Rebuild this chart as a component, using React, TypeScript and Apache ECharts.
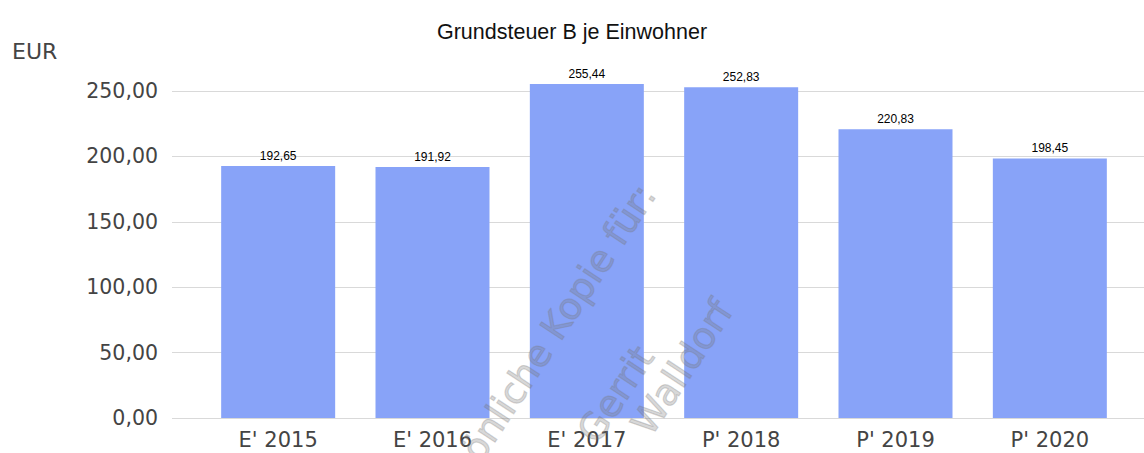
import React, { useEffect, useRef } from "react";
import * as echarts from "echarts";

const categories = ["E' 2015", "E' 2016", "E' 2017", "P' 2018", "P' 2019", "P' 2020"];
const values = [192.65, 191.92, 255.44, 252.83, 220.83, 198.45];
const yTicks = { min: 0, max: 250, interval: 50 };
const titleText = "Grundsteuer B je Einwohner";
const unitText = "EUR";
const watermarkLines = ["Persönliche Kopie für:", "Gerrit", "Walldorf"];

const fmt = (v: number) => v.toFixed(2).replace(".", ",");

export default function App() {
  const ref = useRef<HTMLDivElement>(null);
  useEffect(() => {
    if (!ref.current) return;
    const chart = echarts.init(ref.current, null, { renderer: "svg" });
    const rot = (56.7 * Math.PI) / 180;
    const wmStyle = {
      fill: "#767676",
      stroke: "#767676",
      lineWidth: 1.2,
      opacity: 0.28,
      fontSize: 37,
      fontFamily: "DejaVu Sans",
      align: "right",
      verticalAlign: "middle",
    };
    chart.setOption({
      animation: false,
      backgroundColor: "#ffffff",
      title: {
        text: titleText,
        left: "center",
        top: 16,
        textStyle: { fontFamily: "Liberation Sans", fontSize: 21.5, fontWeight: "normal", color: "#111" },
      },
      grid: [
        { left: 172, right: 0, top: 91, bottom: 35 },
        { left: 201, right: 17, top: 91, bottom: 35 },
      ],
      xAxis: [
        { type: "value", gridIndex: 0, show: false, min: 0, max: 1 },
        {
          type: "category",
          gridIndex: 1,
          data: categories,
          axisLine: { show: false },
          axisTick: { show: false },
          axisLabel: { fontFamily: "DejaVu Sans", fontSize: 21, color: "#444", margin: 11 },
        },
      ],
      yAxis: [
        {
          type: "value",
          gridIndex: 0,
          min: yTicks.min,
          max: yTicks.max,
          interval: yTicks.interval,
          axisLine: { show: false },
          axisTick: { show: false },
          splitLine: { lineStyle: { color: "#d9d9d9", width: 1 } },
          axisLabel: {
            fontFamily: "DejaVu Sans",
            fontSize: 20.5,
            color: "#444",
            margin: 14,
            formatter: (v: number) => fmt(v),
          },
        },
        {
          type: "value",
          gridIndex: 1,
          min: yTicks.min,
          max: yTicks.max,
          interval: yTicks.interval,
          show: false,
          splitLine: { show: false },
        },
      ],
      series: [
        {
          type: "bar",
          xAxisIndex: 1,
          yAxisIndex: 1,
          data: values,
          barWidth: 114,
          clip: false,
          itemStyle: { color: "#88a3f8" },
          label: {
            show: true,
            position: "top",
            distance: 4,
            fontFamily: "Liberation Sans",
            fontSize: 12,
            color: "#000",
            formatter: (p: any) => fmt(p.value),
          },
        },
      ],
      graphic: [
        {
          type: "text",
          left: 12,
          top: 40,
          style: { text: unitText, fontFamily: "DejaVu Sans", fontSize: 22, fill: "#444" },
        },
        {
          type: "text",
          x: 647,
          y: 188,
          rotation: rot,
          silent: true,
          z: 100,
          style: { text: watermarkLines[0], ...wmStyle },
        },
        {
          type: "text",
          x: 645,
          y: 350,
          rotation: rot,
          silent: true,
          z: 100,
          style: { text: watermarkLines[1], ...wmStyle },
        },
        {
          type: "text",
          x: 724,
          y: 304,
          rotation: rot,
          silent: true,
          z: 100,
          style: { text: watermarkLines[2], ...wmStyle },
        },
      ],
    });
    return () => chart.dispose();
  }, []);
  return (
    <div
      ref={ref}
      style={{ position: "fixed", left: 0, top: 0, width: 1144, height: 453 }}
    />
  );
}
